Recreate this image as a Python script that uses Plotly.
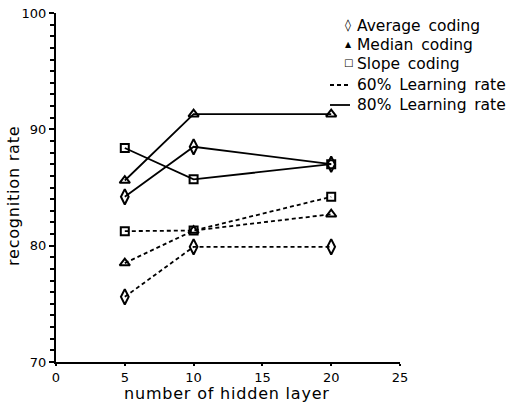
import plotly.graph_objects as go

hidden = [5, 10, 20]
avg_80 = [84.2, 88.5, 87.0]
med_80 = [85.6, 91.3, 91.3]
slope_80 = [88.4, 85.7, 87.0]
avg_60 = [75.6, 79.9, 79.9]
med_60 = [78.5, 81.3, 82.7]
slope_60 = [81.25, 81.3, 84.2]

legend_symbols = ["\u25ca", "\u25b2", "\u25a1"]
legend_labels = ["Average\u2002coding", "Median\u2002coding", "Slope\u2002coding",
                 "60%\u2002Learning\u2002rate", "80%\u2002Learning\u2002rate"]

FONT = "DejaVu Sans"
L, R, T, B = 56, 400, 13, 362  # plot area in pixels
W, H = 516, 404


def px(xp):
    return (xp - L) / (R - L)


def py(yp):
    return 1 - (yp - T) / (B - T)


fig = go.Figure()

series = [
    (avg_80, "diamond-tall-open", "solid", 11),
    (med_80, "triangle-up-open", "solid", 9),
    (slope_80, "square-open", "solid", 8),
    (avg_60, "diamond-tall-open", "4px,3px", 11),
    (med_60, "triangle-up-open", "4px,3px", 9),
    (slope_60, "square-open", "4px,3px", 8),
]
for vals, sym, dash, size in series:
    fig.add_trace(go.Scatter(
        x=hidden, y=vals, mode="lines+markers",
        line=dict(color="black", width=1.8, dash=dash),
        marker=dict(symbol=sym, size=size, color="black", line=dict(color="black", width=2)),
        showlegend=False, hoverinfo="skip",
    ))

leg_y = [26, 45, 64, 85, 105]
for i, (txt, yy) in enumerate(zip(legend_labels, leg_y)):
    fig.add_annotation(text=txt, xref="paper", yref="paper",
                       x=px(355), y=py(yy),
                       xanchor="left", yanchor="middle", showarrow=False,
                       font=dict(family=FONT, size=15.5, color="black"))
for sym, yy, sz in zip(legend_symbols, leg_y[:3], [12, 8, 10]):
    fig.add_annotation(text=sym, xref="paper", yref="paper",
                       x=px(348), y=py(yy - 1),
                       xanchor="center", yanchor="middle", showarrow=False,
                       font=dict(family=FONT, size=sz, color="black"))
fig.add_shape(type="line", xref="paper", yref="paper",
              x0=px(330), x1=px(350), y0=py(leg_y[3]), y1=py(leg_y[3]),
              line=dict(color="black", width=1.8, dash="4px,3px"))
fig.add_shape(type="line", xref="paper", yref="paper",
              x0=px(330), x1=px(350), y0=py(leg_y[4]), y1=py(leg_y[4]),
              line=dict(color="black", width=1.8))

sp = '<span style="letter-spacing:0.8px">%s</span>'
fig.add_annotation(text=sp % "recognition rate", xref="paper", yref="paper",
                   x=px(14), y=py(196), textangle=-90,
                   xanchor="center", yanchor="middle", showarrow=False,
                   font=dict(family=FONT, size=16, color="black"))
fig.add_annotation(text=sp % "number of hidden layer", xref="paper", yref="paper",
                   x=px(227), y=py(393),
                   xanchor="center", yanchor="middle", showarrow=False,
                   font=dict(family=FONT, size=16, color="black"))

fig.update_xaxes(range=[0, 25], tickvals=[0, 5, 10, 15, 20, 25],
                 showline=True, linecolor="black", linewidth=2,
                 ticks="outside", ticklen=2, tickwidth=2, tickcolor="black",
                 showgrid=False, zeroline=False,
                 tickfont=dict(family=FONT, size=13, color="black"))
fig.update_yaxes(range=[70, 100], tickvals=[70, 80, 90, 100],
                 showline=True, linecolor="black", linewidth=2,
                 ticks="outside", ticklen=5, tickwidth=2, tickcolor="black",
                 minor=dict(dtick=1, ticks="outside", ticklen=4, tickwidth=1.5, tickcolor="black"),
                 showgrid=False, zeroline=False,
                 tickfont=dict(family=FONT, size=13, color="black"))

fig.update_layout(width=W, height=H,
                  margin=dict(l=L, r=W - R, t=T, b=H - B, autoexpand=False),
                  plot_bgcolor="white", paper_bgcolor="white")

fig.write_html("out.html", config={"displayModeBar": False},
               post_script="document.body.style.margin='0';document.body.style.overflow='hidden';")
